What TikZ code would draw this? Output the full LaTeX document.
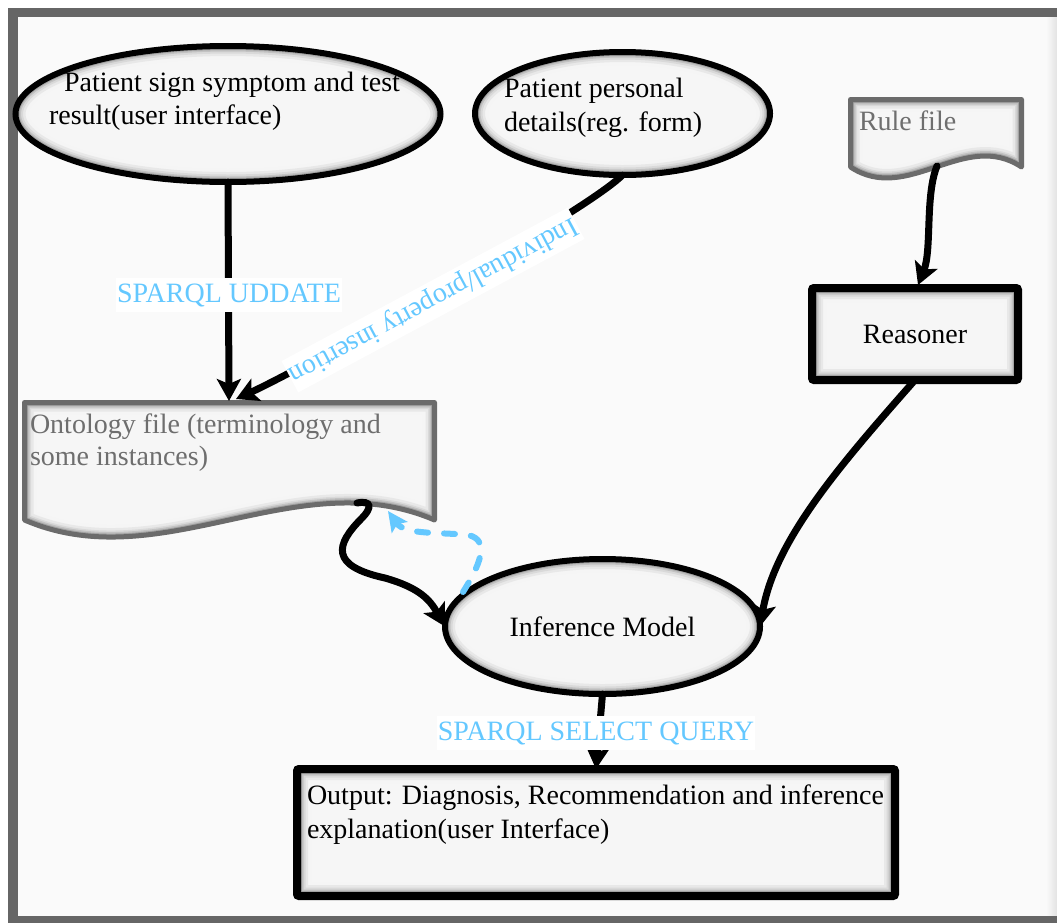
\documentclass[tikz,border=0pt]{standalone}
\usepackage{fontspec}
\setmainfont{Liberation Serif}
\usetikzlibrary{arrows.meta,calc,shapes.geometric}

\definecolor{framegray}{HTML}{666666}
\definecolor{paper}{HTML}{FAFAFA}
\definecolor{boxfill}{HTML}{F6F6F6}
\definecolor{docgray}{HTML}{6B6B6B}
\definecolor{doctext}{HTML}{6E6E6E}
\definecolor{sparql}{HTML}{64C8FF}

\tikzset{
  every node/.style={font=\fontsize{28pt}{33pt}\selectfont, inner sep=0pt, outer sep=0pt},
  txt/.style={anchor=base west},
  % soft grey rim on the inside of the shapes
  glowell/.style={path picture={
    \foreach \w/\c in {26/4,20/9,15/15,11/24,8/36}
      \draw[black!\c, line width=\w pt]
        let \p1=($(path picture bounding box.north east)-(path picture bounding box.center)$)
        in (path picture bounding box.center) ellipse [x radius=\x1, y radius=\y1];}},
  glowrect/.style={path picture={
    \foreach \w/\c in {28/4,22/9,17/15,13/24,10/36}
      \draw[black!\c, line width=\w pt]
        (path picture bounding box.south west) rectangle (path picture bounding box.north east);}},
  ellnode/.style={ellipse, draw=black, line width=6pt, fill=boxfill, glowell},
  boxnode/.style={rectangle, draw=black, line width=8pt, fill=boxfill, glowrect, rounded corners=2pt},
  flow/.style={draw=black, line width=7pt, line cap=round,
    -{Stealth[length=22pt,width=24pt,inset=5pt]}},
  query/.style={text=sparql, fill=white, inner xsep=1pt, inner ysep=5pt},
  feedback/.style={draw=sparql, line width=6pt, line cap=round,
    dash pattern=on 11pt off 16pt, -{Stealth[length=20pt,width=19pt,inset=4pt]}}
}

\begin{document}
\begin{tikzpicture}[x=1pt, y=-1pt]
\useasboundingbox (0,0) rectangle (1057,922);

% page and frame
\fill[white] (0,0) rectangle (1057,922);
\fill[paper] (13,12) rectangle (1057,920);
\fill[left color=paper, right color=black!11] (1046,17) rectangle (1057,916);
\draw[framegray, line width=9.5pt] (13,12.5) rectangle (1080,920.5);

% document shapes (wavy bottom edge)
\path[save path=\ontoshape] (24.5,402.5) -- (434.5,402.5) -- (434.5,520)
  .. controls (297,461) and (161,579) .. (24.5,520) -- cycle;
\path[save path=\ruleshape] (850.5,99.5) -- (1021.5,99.5) -- (1021.5,167)
  .. controls (964.5,129) and (907.5,205) .. (850.5,167) -- cycle;

\path[use path=\ontoshape, fill=boxfill];
\begin{scope}
  \path[use path=\ontoshape, clip];
  \foreach \w/\c in {24/4,18/9,13/15,10/24,7/36}
    \path[use path=\ontoshape, draw=black!\c, line width=\w pt];
\end{scope}
\path[use path=\ontoshape, draw=docgray, line width=5pt, line join=round];

\path[use path=\ruleshape, fill=boxfill];
\begin{scope}
  \path[use path=\ruleshape, clip];
  \foreach \w/\c in {24/4,18/9,13/15,10/24,7/36}
    \path[use path=\ruleshape, draw=black!\c, line width=\w pt];
\end{scope}
\path[use path=\ruleshape, draw=docgray, line width=5pt, line join=round];

% nodes
\node[ellnode, minimum width=425pt, minimum height=136pt] (e1) at (228,114) {};
\node[txt] (e1a) at (64,91) {Patient sign symptom and test};
\node[txt] (e1b) at (49,124) {result(user interface)};

\node[ellnode, minimum width=295pt, minimum height=123pt] (e2) at (622.5,113.5) {};
\node[txt] (e2a) at (504,97) {Patient personal};
\node[txt] (e2b) at (504,131) {details(reg. form)};

\node[txt, text=doctext] (rule) at (859,130) {Rule file};

\node[boxnode, minimum width=206pt, minimum height=92pt] (reas) at (915,334) {Reasoner};

\node[txt, text=doctext] (onto) at (30,433) {Ontology file (terminology and};
\node[txt, text=doctext] (onto2) at (30,465) {some instances)};

\node[ellnode, minimum width=315pt, minimum height=135pt] (inf) at (602.5,626.5) {Inference Model};

\node[boxnode, minimum width=598pt, minimum height=127pt] (out) at (596,832.5) {};
\node[txt] (outa) at (307,804) {Output: Diagnosis, Recommendation and inference};
\node[txt] (outb) at (307,838) {explanation(user Interface)};

% connector end points on the document shapes
\coordinate (onto-top) at (229,401);
\coordinate (onto-ins) at (236,399);
\coordinate (onto-out) at (357,503);
\coordinate (onto-back) at (388,511);
\coordinate (rule-out) at (937,166);
\coordinate (reas-in) at (918,285);
\coordinate (inf-fb) at (463,592);

% connectors
\draw[flow] (e1.south) -- (onto-top);
\draw[flow] (e2.south) .. controls (585,213) and (300,370) .. (onto-ins);
\draw[flow] (rule-out) .. controls (925,195) and (932,250) .. (reas-in);
\draw[flow] (reas.south) .. controls (840,465) and (775,540) .. (inf.east);
\draw[flow] (onto-out) .. controls (372,500) and (372,508) .. (362,518)
  .. controls (335,545) and (330,566) .. (385,578)
  .. controls (420,588) and (430,600) .. (inf.west);
\draw[feedback] (inf-fb) .. controls (478,568) and (492,540) .. (468,535)
  .. controls (440,532) and (405,535) .. (onto-back);
\draw[flow] (inf.south) -- (out.north);

% connector labels
\node[query, anchor=base] (upd) at (229,302) {SPARQL UDDATE};
\node[query, rotate=208.2] (ins) at (433,300) {Individual/property insertion};
\node[query, anchor=base] (selq) at (596,740) {SPARQL SELECT QUERY};
\end{tikzpicture}
\end{document}
